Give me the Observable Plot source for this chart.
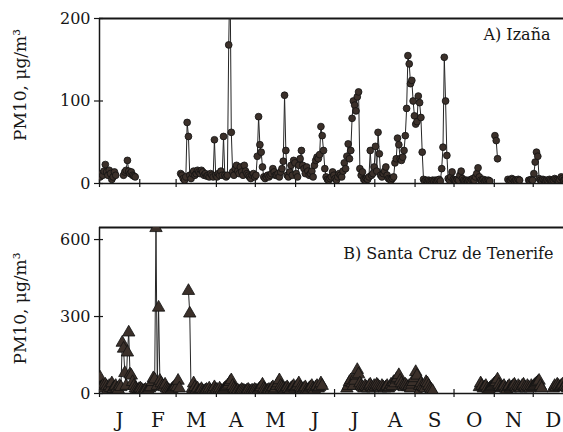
<!DOCTYPE html>
<html>
<head>
<meta charset="utf-8">
<script src="https://cdn.jsdelivr.net/npm/d3@7"></script>
<script src="https://cdn.jsdelivr.net/npm/@observablehq/plot@0.6"></script>
<style>
  html, body { margin: 0; padding: 0; background: #fff; overflow: hidden; }
  #chart svg { display: block; }
</style>
</head>
<body>
<div id="chart"></div>
<script>
// ---- data (daily PM10, µg/m3; null = no measurement) ----
const monthLetters = ["J","F","M","A","M","J","J","A","S","O","N","D"];
const monthLengths = [31,28,31,30,31,30,31,31,30,31,30,31];
const yTicksIzana = [0, 100, 200];
const yTicksSantaCruz = [0, 300, 600];

const izanaByMonth = [
  [8,12,10,15,23,14,10,16,12,5,8,14,10,null,null,null,null,null,10,14,16,28,15,12,14,10,9,8,null,null,null],
  [null,null,null,null,null,null,null,null,null,null,null,null,null,null,null,null,null,null,null,null,null,null,null,null,null,null,null,null],
  [null,null,null,12,10,6,4,8,74,57,10,6,12,15,10,12,16,14,12,16,14,10,12,9,10,8,12,10,8,53,10],
  [8,12,10,15,10,57,10,8,10,168,260,62,14,10,18,22,15,12,20,14,10,22,15,12,10,8,6,10,12,8],
  [10,33,81,47,38,20,8,6,8,10,8,10,12,18,14,10,10,12,8,14,18,27,107,40,10,8,14,22,10,28,25],
  [12,8,22,30,40,22,18,12,20,15,10,12,15,8,22,28,32,30,35,69,58,40,18,8,5,4,6,8,14,10],
  [6,4,8,12,10,8,15,25,18,33,48,30,40,79,100,95,88,105,111,18,10,14,5,4,6,5,8,40,10,12,20],
  [45,15,62,36,10,8,12,15,20,10,6,5,4,6,8,25,30,55,47,30,28,32,40,58,91,155,145,121,125,100,82],
  [72,75,106,98,80,38,5,3,4,3,4,3,3,4,3,4,3,4,5,3,18,44,153,100,34,6,4,8,14,5],
  [4,3,5,4,10,15,6,4,3,4,3,4,3,5,6,4,8,12,19,8,4,3,5,3,4,3,4,3,null,null,null],
  [58,52,30,null,null,null,null,null,null,null,5,3,4,6,5,3,4,3,5,4,null,null,null,null,null,null,4,3,5,4],
  [12,26,38,33,6,4,3,5,4,3,4,3,5,4,3,4,6,5,4,3,5,8,6,4,5,3,4,5,3,4,5]
];

const santaCruzByMonth = [
  [62,25,30,20,35,28,15,30,22,40,18,25,30,20,15,30,25,198,175,80,30,160,238,75,70,45,30,20,15,12,18],
  [20,15,10,12,15,10,12,20,25,45,60,55,645,30,335,50,40,30,25,35,20,15,12,10,15,20,25,30],
  [25,50,20,null,null,null,null,null,null,400,312,3,20,40,25,15,20,10,12,18,10,8,12,15,10,20,12,8,15,25,15],
  [15,10,20,12,8,15,20,25,30,35,45,52,30,20,15,10,12,8,10,15,12,10,8,12,15,10,8,12,10,15],
  [12,10,15,20,25,35,20,15,10,12,15,10,20,25,15,20,30,40,52,30,25,20,15,20,25,18,12,20,25,30,20],
  [25,30,40,25,20,15,20,25,15,12,20,25,30,20,15,25,30,20,25,40,30,null,null,null,null,null,null,null,null,null],
  [null,null,null,null,null,null,null,null,null,20,30,45,52,40,30,50,70,92,75,40,30,25,20,30,25,20,30,35,25,20,30],
  [25,35,30,25,20,30,25,20,25,30,20,25,35,30,45,40,55,60,72,50,40,30,25,35,30,25,30,20,35,45,60],
  [84,70,2,30,40,30,25,20,45,40,30,20,15,10,null,null,null,null,null,null,null,null,null,null,null,null,null,null,null,null],
  [null,null,null,null,null,null,null,null,null,null,null,null,null,null,null,null,null,null,null,25,40,30,20,25,30,20,15,20,25,30,35],
  [40,45,55,35,25,20,25,30,20,15,25,30,20,25,30,35,25,20,30,25,20,30,35,25,20,30,25,20,30,25],
  [30,35,40,45,50,30,20,null,null,null,null,null,null,null,null,20,30,25,35,30,25,30,35,25,30,25,20,30,25,30,25]
];

// ---- build tables ----
const monthStarts = [];
{ let s = 0; for (const n of monthLengths) { monthStarts.push(s); s += n; } }
const monthMids = monthStarts.map((s, i) => s + monthLengths[i] / 2);
function toRows(byMonth) {
  const rows = [];
  byMonth.forEach((vals, m) => vals.forEach((v, i) => rows.push({day: monthStarts[m] + i + 0.5, pm: v})));
  return rows;
}
const izana = toRows(izanaByMonth);
const santaCruz = toRows(santaCruzByMonth);

// ---- layout ----
const W = 563, ML = 99, MR = 0;
const xMax = 365 * (W - ML) / (573 - ML); // year runs past the right edge
const serif = "'DejaVu Serif', 'Liberation Serif', serif";
const ink = "#161616";
const dotFill = "#3b302a";

function panel(o) {
  const innerH = o.height - o.marginTop - o.marginBottom;
  const innerW = W - ML - MR;
  const marks = [
    Plot.ruleY([o.yMax], {stroke: ink, strokeWidth: 2}),
    Plot.ruleX([0], {stroke: ink, strokeWidth: 1.5}),
    Plot.ruleY([0], {stroke: ink, strokeWidth: 1.5}),
    Plot.tickX(monthStarts, {x: d => d, insetTop: innerH - 4, insetBottom: -4, stroke: ink, strokeWidth: 1.2}),
    Plot.tickY(o.yTicks, {y: d => d, insetLeft: -5, insetRight: innerW - 4, stroke: ink, strokeWidth: 1.2}),
    Plot.text(o.yTicks, {y: d => d, text: d => String(d), frameAnchor: "left", textAnchor: "end", lineAnchor: "middle", dx: -9, fontSize: 16, fontFamily: serif, fill: ink}),
    Plot.line(o.data, {x: "day", y: "pm", stroke: "#262626", strokeWidth: 1, clip: true}),
    Plot.dot(o.data, {x: "day", y: "pm", symbol: o.symbol, r: o.r, fill: dotFill, stroke: "#111", strokeWidth: 0.8, clip: true}),
    Plot.text([o.yLabel], {frameAnchor: "left", rotate: -90, textAnchor: "middle", lineAnchor: "middle", dx: -79, dy: o.yLabelDy, fontSize: 17, fontFamily: serif, fill: ink}),
    Plot.text([o.title], {frameAnchor: "top-right", textAnchor: "end", lineAnchor: "top", dx: o.titleDx, dy: o.titleDy, fontSize: 16, fontFamily: serif, fill: ink})
  ];
  if (o.months) {
    marks.push(Plot.text(monthLetters, {x: (d, i) => monthMids[i], frameAnchor: "bottom", lineAnchor: "middle", dy: 27.5, fontSize: 20, fontFamily: serif, fill: ink}));
  }
  return Plot.plot({
    width: W, height: o.height,
    marginLeft: ML, marginRight: MR, marginTop: o.marginTop, marginBottom: o.marginBottom,
    style: {fontFamily: serif, background: "white", color: ink, overflow: "visible"},
    x: {domain: [0, xMax], axis: null},
    y: {domain: [0, o.yMax], axis: null},
    marks
  });
}

const topPanel = panel({
  data: izana, symbol: "circle", r: 3.4, yMax: 200, yTicks: yTicksIzana,
  height: 200, marginTop: 18, marginBottom: 17,
  yLabel: "PM10, μg/m³", yLabelDy: -16,
  title: "A) Izaña", titleDx: -13, titleDy: 10, months: false
});
const bottomPanel = panel({
  data: santaCruz, symbol: "triangle", r: 4.6, yMax: 647, yTicks: yTicksSantaCruz,
  height: 232, marginTop: 27, marginBottom: 39,
  yLabel: "PM10, μg/m³", yLabelDy: -2,
  title: "B) Santa Cruz de Tenerife", titleDx: -10, titleDy: 20, months: true
});
document.getElementById("chart").append(topPanel, bottomPanel);
</script>
</body>
</html>
